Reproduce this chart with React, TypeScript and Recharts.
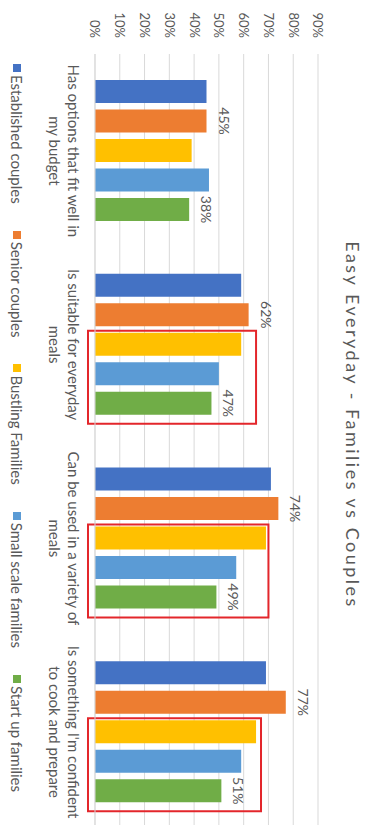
import { BarChart, Bar, XAxis, YAxis, CartesianGrid, LabelList } from 'recharts';

const categories = [
  'Has options that fit well in\nmy budget',
  'Is suitable for everyday\nmeals',
  'Can be used in a variety of\nmeals',
  "Is something I'm confident\nto cook and prepare",
];
const established = [45, 59, 71, 69];
const senior = [45, 62, 74, 77];
const bustling = [39, 59, 69, 65];
const smallScale = [46, 50, 57, 59];
const startUp = [38, 47, 49, 51];
// top of the red highlight box (in %), none for the first group
const highlightTop = [null, 65, 70, 67];
const valueTicks = [0, 10, 20, 30, 40, 50, 60, 70, 80, 90];

const series = [
  { key: 'established', name: 'Established couples', color: '#4472C4' },
  { key: 'senior', name: 'Senior couples', color: '#ED7D31' },
  { key: 'bustling', name: 'Bustling Families', color: '#FFC000' },
  { key: 'smallScale', name: 'Small scale families', color: '#5B9BD5' },
  { key: 'startUp', name: 'Start up families', color: '#70AD47' },
];

const data = categories.map((category, i) => ({
  category,
  established: established[i],
  senior: senior[i],
  bustling: bustling[i],
  smallScale: smallScale[i],
  startUp: startUp[i],
  box: highlightTop[i],
}));

const W = 835;
const H = 369;
const BAR = 23;
const GAP = 6.5;
const TEXT = '#595959';

const CategoryTick = ({ x, y, payload }: any) => {
  const lines = String(payload.value).split('\n');
  return (
    <text x={x} y={y} textAnchor="middle" fill={TEXT} fontSize={15}>
      {lines.map((l, i) => (
        <tspan key={i} x={x} dy={i === 0 ? 27 : 19}>
          {l}
        </tspan>
      ))}
    </text>
  );
};

// last bar of the group also draws the red box around the three family bars
const GreenWithBox = (props: any) => {
  const { x, y, width, height, value, fill, payload } = props;
  const base = y + height;
  const pxPer = value ? height / value : 0;
  const step = width + GAP;
  return (
    <g>
      <rect x={x} y={y} width={width} height={height} fill={fill} />
      {payload.box != null && (
        <rect
          x={x - 2 * step - 2}
          y={base - payload.box * pxPer}
          width={3 * width + 2 * GAP + 11}
          height={payload.box * pxPer + 7}
          fill="none"
          stroke="#E3262B"
          strokeWidth={2}
        />
      )}
    </g>
  );
};

// legend is plain HTML: the chart is CSS-rotated, which breaks Recharts' legend measuring
const ChartLegend = () => (
  <div
    style={{
      position: 'absolute',
      left: 0,
      bottom: 0,
      width: W,
      height: 35,
      display: 'flex',
      alignItems: 'center',
      justifyContent: 'center',
      paddingLeft: 21,
      boxSizing: 'border-box',
      gap: 27,
      fontSize: 15,
      color: TEXT,
    }}
  >
    {series.map((s) => (
      <div key={s.key} style={{ display: 'flex', alignItems: 'center', gap: 3, whiteSpace: 'nowrap' }}>
        <span style={{ width: 8, height: 8, background: s.color, display: 'inline-block' }} />
        <span>{s.name}</span>
      </div>
    ))}
  </div>
);

export default function App() {
  return (
    <div style={{ position: 'fixed', left: 0, top: 0, width: 369, height: 825, overflow: 'hidden', background: '#fff' }}>
      <div
        style={{
          position: 'absolute',
          left: 0,
          top: 0,
          width: W,
          height: H,
          transformOrigin: '0 0',
          transform: 'translateX(369px) rotate(90deg)',
          fontFamily: 'Lato, sans-serif',
        }}
      >
        <BarChart
          width={W}
          height={H}
          data={data}
          margin={{ top: 51, right: 6, left: 0, bottom: 35 }}
          barSize={BAR}
          barGap={GAP}
        >
          <CartesianGrid vertical={false} stroke="#D9D9D9" />
          <XAxis
            dataKey="category"
            interval={0}
            height={60}
            tickSize={0}
            tickMargin={0}
            tickLine={false}
            axisLine={{ stroke: '#D9D9D9' }}
            tick={<CategoryTick />}
          />
          <YAxis
            domain={[0, 90]}
            ticks={valueTicks}
            interval={0}
            width={54}
            tickSize={0}
            tickMargin={16}
            tickLine={false}
            axisLine={false}
            tick={{ fontSize: 13, fill: TEXT }}
            tickFormatter={(v: number) => `${v}%`}
          />
          <Bar dataKey="established" name={series[0].name} fill={series[0].color} isAnimationActive={false} />
          <Bar dataKey="senior" name={series[1].name} fill={series[1].color} isAnimationActive={false}>
            <LabelList dataKey="senior" position="top" offset={12} fontSize={14} fill={TEXT} formatter={(v: any) => `${v}%`} />
          </Bar>
          <Bar dataKey="bustling" name={series[2].name} fill={series[2].color} isAnimationActive={false} />
          <Bar dataKey="smallScale" name={series[3].name} fill={series[3].color} isAnimationActive={false} />
          <Bar dataKey="startUp" name={series[4].name} fill={series[4].color} isAnimationActive={false} shape={<GreenWithBox />}>
            <LabelList dataKey="startUp" position="top" offset={12} fontSize={14} fill={TEXT} formatter={(v: any) => `${v}%`} />
          </Bar>
        </BarChart>
        <ChartLegend />
        <svg width={W} height={H} style={{ position: 'absolute', left: 0, top: 0, pointerEvents: 'none' }}>
          <text x={425} y={23} textAnchor="middle" fontSize={18} letterSpacing={2.5} fill={TEXT}>
            Easy Everyday - Families vs Couples
          </text>
        </svg>
      </div>
    </div>
  );
}
